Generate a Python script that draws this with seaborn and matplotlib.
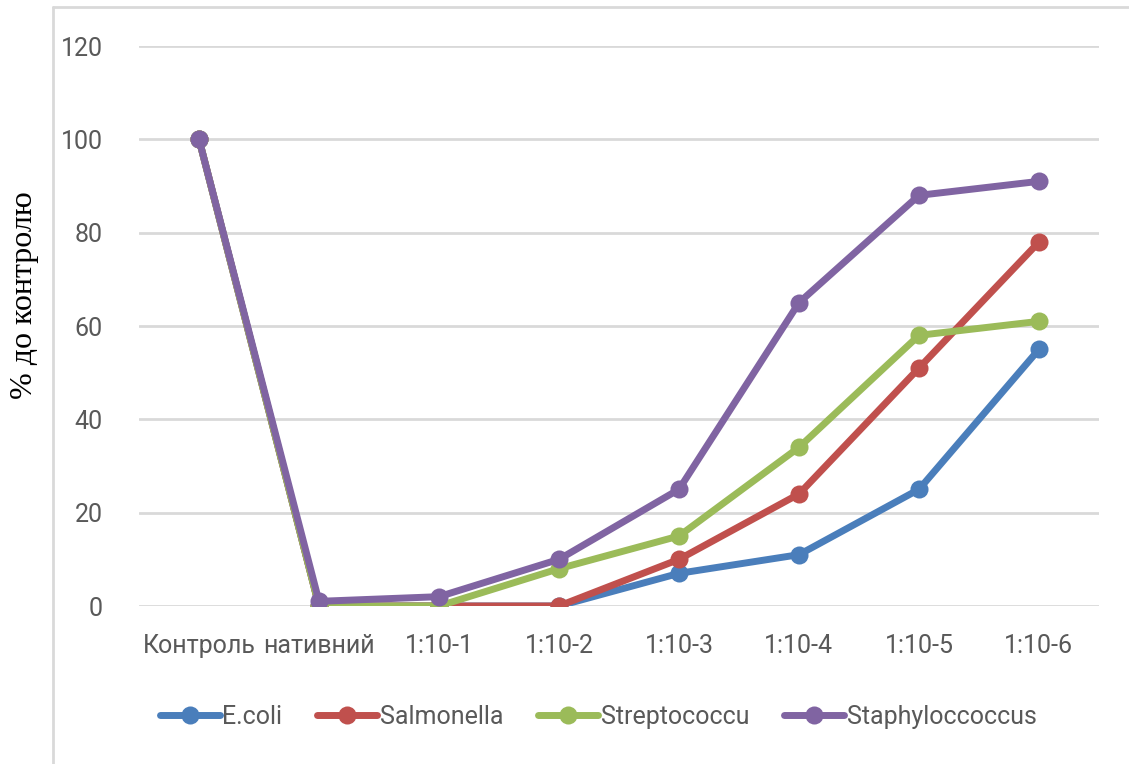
import pandas as pd
import numpy as np
import matplotlib.pyplot as plt
import seaborn as sns
from matplotlib.lines import Line2D

# categories on the x axis
dilutions = ['Контроль', 'нативний', '1:10-1', '1:10-2', '1:10-3', '1:10-4', '1:10-5', '1:10-6']

# % of control per strain
ecoli = [100, 0, 0, 0, 7, 11, 25, 55]
salmonella = [100, 0, 0, 0, 10, 24, 51, 78]
streptococcu = [100, 0, 0, 8, 15, 34, 58, 61]
staphylococcus = [100, 1, 2, 10, 25, 65, 88, 91]

strains = ['E.coli', 'Salmonella', 'Streptococcu', 'Staphyloccoccus']
yticks = [0, 20, 40, 60, 80, 100, 120]

rows = []
for name, vals in zip(strains, [ecoli, salmonella, streptococcu, staphylococcus]):
    for d, v in zip(dilutions, vals):
        rows.append({'dilution': d, 'value': v, 'strain': name})
df = pd.DataFrame(rows)

sns.set_theme(style='white')
plt.rcParams['font.family'] = ['Roboto', 'DejaVu Sans']

palette = {'E.coli': '#4a7ebb', 'Salmonella': '#c0504d',
           'Streptococcu': '#9bbb59', 'Staphyloccoccus': '#8064a2'}

fig = plt.figure(figsize=(11.29, 7.64), dpi=100)
ax = fig.add_axes([139 / 1129, 1 - 606 / 764, 960 / 1129, 560 / 764])

sns.lineplot(data=df, x='dilution', y='value', hue='strain', palette=palette,
             marker='o', markersize=13, markeredgewidth=0, linewidth=5,
             sort=False, legend=False, ax=ax)

ax.set_xlim(-0.5, len(dilutions) - 0.5)
ax.set_ylim(0, 120)
ax.set_yticks(yticks)
ax.yaxis.grid(True, color='#d9d9d9', linewidth=2)
ax.set_axisbelow(True)
for s in ax.spines.values():
    s.set_visible(False)
ax.tick_params(axis='both', length=0, labelsize=18, labelcolor='#595959')
ax.tick_params(axis='y', pad=26)
ax.tick_params(axis='x', pad=20)
ax.set_xlabel('')
ax.set_ylabel('')

# y label sits outside the chart frame
fig.text(25 / 1129, 1 - 295 / 764, '% до контролю', rotation=90, ha='center', va='center',
         fontsize=23, family=['Liberation Serif', 'DejaVu Serif'], color='black')

# chart frame (left and top edges)
fl = 53 / 1129
ft = 1 - 7 / 764
fig.add_artist(Line2D([fl, fl], [0, ft], transform=fig.transFigure, color='#d9d9d9', lw=2))
fig.add_artist(Line2D([fl, 1], [ft, ft], transform=fig.transFigure, color='#d9d9d9', lw=2))

handles = [Line2D([], [], color=palette[s], marker='o', markersize=13, lw=5, markeredgewidth=0)
           for s in strains]
fig.legend(handles, strains, loc='center', bbox_to_anchor=(598 / 1129, 1 - 717 / 764), ncol=4,
           frameon=False, fontsize=18, labelcolor='#595959', handlelength=2.4,
           handletextpad=0.1, columnspacing=1.4)

fig.savefig('out.png', dpi=100)
